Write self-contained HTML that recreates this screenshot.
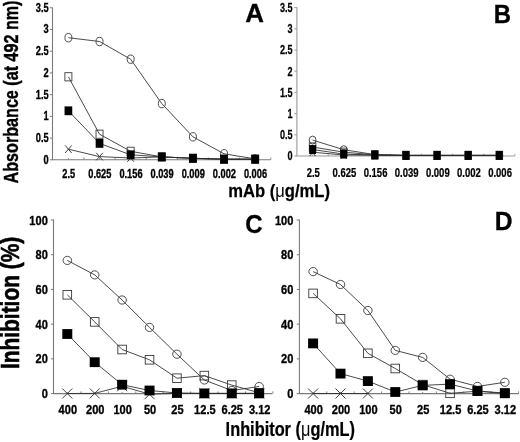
<!DOCTYPE html>
<html><head><meta charset="utf-8"><title>Figure</title>
<style>html,body{margin:0;padding:0;background:#fff;}svg{display:block;will-change:transform;}</style></head><body>
<svg width="520" height="442" viewBox="0 0 520 442">
<rect width="520" height="442" fill="#fff"/>
<path d="M52.50 7.60V159.80H270.50" fill="none" stroke="#7a7a7a" stroke-width="1.1"/>
<path d="M49.90 159.80H52.50" stroke="#7a7a7a" stroke-width="1"/>
<text transform="translate(48.60,163.81) scale(0.735,1)" font-family="Liberation Sans, sans-serif" font-weight="bold" font-size="12.6" text-anchor="end" fill="#000" stroke="#000" stroke-width="0.35">0</text>
<path d="M49.90 138.08H52.50" stroke="#7a7a7a" stroke-width="1"/>
<text transform="translate(48.60,142.09) scale(0.735,1)" font-family="Liberation Sans, sans-serif" font-weight="bold" font-size="12.6" text-anchor="end" fill="#000" stroke="#000" stroke-width="0.35">0.5</text>
<path d="M49.90 116.36H52.50" stroke="#7a7a7a" stroke-width="1"/>
<text transform="translate(48.60,120.37) scale(0.735,1)" font-family="Liberation Sans, sans-serif" font-weight="bold" font-size="12.6" text-anchor="end" fill="#000" stroke="#000" stroke-width="0.35">1</text>
<path d="M49.90 94.64H52.50" stroke="#7a7a7a" stroke-width="1"/>
<text transform="translate(48.60,98.65) scale(0.735,1)" font-family="Liberation Sans, sans-serif" font-weight="bold" font-size="12.6" text-anchor="end" fill="#000" stroke="#000" stroke-width="0.35">1.5</text>
<path d="M49.90 72.92H52.50" stroke="#7a7a7a" stroke-width="1"/>
<text transform="translate(48.60,76.93) scale(0.735,1)" font-family="Liberation Sans, sans-serif" font-weight="bold" font-size="12.6" text-anchor="end" fill="#000" stroke="#000" stroke-width="0.35">2</text>
<path d="M49.90 51.20H52.50" stroke="#7a7a7a" stroke-width="1"/>
<text transform="translate(48.60,55.21) scale(0.735,1)" font-family="Liberation Sans, sans-serif" font-weight="bold" font-size="12.6" text-anchor="end" fill="#000" stroke="#000" stroke-width="0.35">2.5</text>
<path d="M49.90 29.48H52.50" stroke="#7a7a7a" stroke-width="1"/>
<text transform="translate(48.60,33.49) scale(0.735,1)" font-family="Liberation Sans, sans-serif" font-weight="bold" font-size="12.6" text-anchor="end" fill="#000" stroke="#000" stroke-width="0.35">3</text>
<path d="M49.90 7.76H52.50" stroke="#7a7a7a" stroke-width="1"/>
<text transform="translate(48.60,11.77) scale(0.735,1)" font-family="Liberation Sans, sans-serif" font-weight="bold" font-size="12.6" text-anchor="end" fill="#000" stroke="#000" stroke-width="0.35">3.5</text>
<path d="M68.40 159.80v-1.6M83.97 159.80v-2.2M99.53 159.80v-1.6M115.09 159.80v-2.2M130.66 159.80v-1.6M146.22 159.80v-2.2M161.79 159.80v-1.6M177.36 159.80v-2.2M192.92 159.80v-1.6M208.49 159.80v-2.2M224.05 159.80v-1.6M239.62 159.80v-2.2M255.18 159.80v-1.6M270.75 159.80v-2.2" stroke="#7a7a7a" stroke-width="0.9" fill="none"/>
<text transform="translate(68.70,178.00) scale(0.735,1)" font-family="Liberation Sans, sans-serif" font-weight="bold" font-size="12.6" text-anchor="middle" fill="#000" stroke="#000" stroke-width="0.35">2.5</text>
<text transform="translate(99.83,178.00) scale(0.735,1)" font-family="Liberation Sans, sans-serif" font-weight="bold" font-size="12.6" text-anchor="middle" fill="#000" stroke="#000" stroke-width="0.35">0.625</text>
<text transform="translate(130.96,178.00) scale(0.735,1)" font-family="Liberation Sans, sans-serif" font-weight="bold" font-size="12.6" text-anchor="middle" fill="#000" stroke="#000" stroke-width="0.35">0.156</text>
<text transform="translate(162.09,178.00) scale(0.735,1)" font-family="Liberation Sans, sans-serif" font-weight="bold" font-size="12.6" text-anchor="middle" fill="#000" stroke="#000" stroke-width="0.35">0.039</text>
<text transform="translate(193.22,178.00) scale(0.735,1)" font-family="Liberation Sans, sans-serif" font-weight="bold" font-size="12.6" text-anchor="middle" fill="#000" stroke="#000" stroke-width="0.35">0.009</text>
<text transform="translate(224.35,178.00) scale(0.735,1)" font-family="Liberation Sans, sans-serif" font-weight="bold" font-size="12.6" text-anchor="middle" fill="#000" stroke="#000" stroke-width="0.35">0.002</text>
<text transform="translate(255.48,178.00) scale(0.735,1)" font-family="Liberation Sans, sans-serif" font-weight="bold" font-size="12.6" text-anchor="middle" fill="#000" stroke="#000" stroke-width="0.35">0.006</text>
<polyline points="68.40,37.70 99.53,41.50 130.66,59.20 161.79,103.60 192.92,136.80 224.05,153.80 255.18,158.90" fill="none" stroke="#2a2a2a" stroke-width="0.85"/>
<polyline points="68.40,76.80 99.53,134.20 130.66,151.30 161.79,156.90 192.92,158.30 224.05,159.20 255.18,159.20" fill="none" stroke="#2a2a2a" stroke-width="0.85"/>
<polyline points="68.40,149.20 99.53,156.60 130.66,158.00 161.79,156.90 192.92,158.30 224.05,159.20 255.18,159.20" fill="none" stroke="#2a2a2a" stroke-width="0.85"/>
<polyline points="68.40,110.80 99.53,143.40 130.66,154.80 161.79,156.90 192.92,158.30 224.05,159.20 255.18,159.20" fill="none" stroke="#2a2a2a" stroke-width="0.85"/>
<ellipse cx="68.40" cy="37.70" rx="3.5" ry="4.2" fill="none" stroke="#3a3a3a" stroke-width="0.9"/>
<ellipse cx="99.53" cy="41.50" rx="3.5" ry="4.2" fill="none" stroke="#3a3a3a" stroke-width="0.9"/>
<ellipse cx="130.66" cy="59.20" rx="3.5" ry="4.2" fill="none" stroke="#3a3a3a" stroke-width="0.9"/>
<ellipse cx="161.79" cy="103.60" rx="3.5" ry="4.2" fill="none" stroke="#3a3a3a" stroke-width="0.9"/>
<ellipse cx="192.92" cy="136.80" rx="3.5" ry="4.2" fill="none" stroke="#3a3a3a" stroke-width="0.9"/>
<ellipse cx="224.05" cy="153.80" rx="3.5" ry="4.2" fill="none" stroke="#3a3a3a" stroke-width="0.9"/>
<ellipse cx="255.18" cy="158.90" rx="3.5" ry="4.2" fill="none" stroke="#3a3a3a" stroke-width="0.9"/>
<rect x="64.90" y="72.70" width="7.0" height="8.2" fill="none" stroke="#3a3a3a" stroke-width="0.9"/>
<rect x="96.03" y="130.10" width="7.0" height="8.2" fill="none" stroke="#3a3a3a" stroke-width="0.9"/>
<rect x="127.16" y="147.20" width="7.0" height="8.2" fill="none" stroke="#3a3a3a" stroke-width="0.9"/>
<rect x="158.29" y="152.80" width="7.0" height="8.2" fill="none" stroke="#3a3a3a" stroke-width="0.9"/>
<rect x="189.42" y="154.20" width="7.0" height="8.2" fill="none" stroke="#3a3a3a" stroke-width="0.9"/>
<rect x="220.55" y="155.10" width="7.0" height="8.2" fill="none" stroke="#3a3a3a" stroke-width="0.9"/>
<rect x="251.68" y="155.10" width="7.0" height="8.2" fill="none" stroke="#3a3a3a" stroke-width="0.9"/>
<path d="M65.10 145.40L71.70 153.00M65.10 153.00L71.70 145.40" stroke="#2a2a2a" stroke-width="0.9" fill="none"/>
<path d="M96.23 152.80L102.83 160.40M96.23 160.40L102.83 152.80" stroke="#2a2a2a" stroke-width="0.9" fill="none"/>
<path d="M127.36 154.20L133.96 161.80M127.36 161.80L133.96 154.20" stroke="#2a2a2a" stroke-width="0.9" fill="none"/>
<path d="M158.49 153.10L165.09 160.70M158.49 160.70L165.09 153.10" stroke="#2a2a2a" stroke-width="0.9" fill="none"/>
<path d="M189.62 154.50L196.22 162.10M189.62 162.10L196.22 154.50" stroke="#2a2a2a" stroke-width="0.9" fill="none"/>
<path d="M220.75 155.40L227.35 163.00M220.75 163.00L227.35 155.40" stroke="#2a2a2a" stroke-width="0.9" fill="none"/>
<path d="M251.88 155.40L258.48 163.00M251.88 163.00L258.48 155.40" stroke="#2a2a2a" stroke-width="0.9" fill="none"/>
<rect x="64.55" y="106.40" width="7.7" height="8.8" fill="#000"/>
<rect x="95.68" y="139.00" width="7.7" height="8.8" fill="#000"/>
<rect x="126.81" y="150.40" width="7.7" height="8.8" fill="#000"/>
<rect x="157.94" y="152.50" width="7.7" height="8.8" fill="#000"/>
<rect x="189.07" y="153.90" width="7.7" height="8.8" fill="#000"/>
<rect x="220.20" y="154.80" width="7.7" height="8.8" fill="#000"/>
<rect x="251.33" y="154.80" width="7.7" height="8.8" fill="#000"/>
<path d="M296.90 7.00V156.00H514.60" fill="none" stroke="#9a9a9a" stroke-width="1.1"/>
<path d="M294.30 156.00H296.90" stroke="#9a9a9a" stroke-width="1"/>
<text transform="translate(292.60,160.43) scale(0.69,1)" font-family="Liberation Sans, sans-serif" font-weight="bold" font-size="13.2" text-anchor="end" fill="#000" stroke="#000" stroke-width="0.25">0</text>
<path d="M294.30 134.80H296.90" stroke="#9a9a9a" stroke-width="1"/>
<text transform="translate(292.60,139.23) scale(0.69,1)" font-family="Liberation Sans, sans-serif" font-weight="bold" font-size="13.2" text-anchor="end" fill="#000" stroke="#000" stroke-width="0.25">0.5</text>
<path d="M294.30 113.60H296.90" stroke="#9a9a9a" stroke-width="1"/>
<text transform="translate(292.60,118.03) scale(0.69,1)" font-family="Liberation Sans, sans-serif" font-weight="bold" font-size="13.2" text-anchor="end" fill="#000" stroke="#000" stroke-width="0.25">1</text>
<path d="M294.30 92.40H296.90" stroke="#9a9a9a" stroke-width="1"/>
<text transform="translate(292.60,96.83) scale(0.69,1)" font-family="Liberation Sans, sans-serif" font-weight="bold" font-size="13.2" text-anchor="end" fill="#000" stroke="#000" stroke-width="0.25">1.5</text>
<path d="M294.30 71.20H296.90" stroke="#9a9a9a" stroke-width="1"/>
<text transform="translate(292.60,75.63) scale(0.69,1)" font-family="Liberation Sans, sans-serif" font-weight="bold" font-size="13.2" text-anchor="end" fill="#000" stroke="#000" stroke-width="0.25">2</text>
<path d="M294.30 50.00H296.90" stroke="#9a9a9a" stroke-width="1"/>
<text transform="translate(292.60,54.43) scale(0.69,1)" font-family="Liberation Sans, sans-serif" font-weight="bold" font-size="13.2" text-anchor="end" fill="#000" stroke="#000" stroke-width="0.25">2.5</text>
<path d="M294.30 28.80H296.90" stroke="#9a9a9a" stroke-width="1"/>
<text transform="translate(292.60,33.23) scale(0.69,1)" font-family="Liberation Sans, sans-serif" font-weight="bold" font-size="13.2" text-anchor="end" fill="#000" stroke="#000" stroke-width="0.25">3</text>
<path d="M294.30 7.60H296.90" stroke="#9a9a9a" stroke-width="1"/>
<text transform="translate(292.60,12.03) scale(0.69,1)" font-family="Liberation Sans, sans-serif" font-weight="bold" font-size="13.2" text-anchor="end" fill="#000" stroke="#000" stroke-width="0.25">3.5</text>
<path d="M312.60 156.00v-1.6M328.16 156.00v-2.2M343.72 156.00v-1.6M359.28 156.00v-2.2M374.84 156.00v-1.6M390.40 156.00v-2.2M405.96 156.00v-1.6M421.52 156.00v-2.2M437.08 156.00v-1.6M452.64 156.00v-2.2M468.20 156.00v-1.6M483.76 156.00v-2.2M499.32 156.00v-1.6M514.88 156.00v-2.2" stroke="#9a9a9a" stroke-width="0.9" fill="none"/>
<text transform="translate(313.30,176.60) scale(0.7,1)" font-family="Liberation Sans, sans-serif" font-weight="bold" font-size="13.6" text-anchor="middle" fill="#000" stroke="#000" stroke-width="0.25">2.5</text>
<text transform="translate(344.42,176.60) scale(0.7,1)" font-family="Liberation Sans, sans-serif" font-weight="bold" font-size="13.6" text-anchor="middle" fill="#000" stroke="#000" stroke-width="0.25">0.625</text>
<text transform="translate(375.54,176.60) scale(0.7,1)" font-family="Liberation Sans, sans-serif" font-weight="bold" font-size="13.6" text-anchor="middle" fill="#000" stroke="#000" stroke-width="0.25">0.156</text>
<text transform="translate(406.66,176.60) scale(0.7,1)" font-family="Liberation Sans, sans-serif" font-weight="bold" font-size="13.6" text-anchor="middle" fill="#000" stroke="#000" stroke-width="0.25">0.039</text>
<text transform="translate(437.78,176.60) scale(0.7,1)" font-family="Liberation Sans, sans-serif" font-weight="bold" font-size="13.6" text-anchor="middle" fill="#000" stroke="#000" stroke-width="0.25">0.009</text>
<text transform="translate(468.90,176.60) scale(0.7,1)" font-family="Liberation Sans, sans-serif" font-weight="bold" font-size="13.6" text-anchor="middle" fill="#000" stroke="#000" stroke-width="0.25">0.002</text>
<text transform="translate(500.02,176.60) scale(0.7,1)" font-family="Liberation Sans, sans-serif" font-weight="bold" font-size="13.6" text-anchor="middle" fill="#000" stroke="#000" stroke-width="0.25">0.006</text>
<polyline points="312.60,140.10 343.72,149.70 374.84,154.60 405.96,155.40 437.08,155.40 468.20,155.40 499.32,155.40" fill="none" stroke="#2a2a2a" stroke-width="0.85"/>
<polyline points="312.60,147.00 343.72,152.20 374.84,154.80 405.96,155.40 437.08,155.40 468.20,155.40 499.32,155.40" fill="none" stroke="#2a2a2a" stroke-width="0.85"/>
<polyline points="312.60,152.20 343.72,155.00 374.84,155.20 405.96,155.40 437.08,155.40 468.20,155.40 499.32,155.40" fill="none" stroke="#2a2a2a" stroke-width="0.85"/>
<polyline points="312.60,149.50 343.72,154.10 374.84,155.00 405.96,155.40 437.08,155.40 468.20,155.40 499.32,155.40" fill="none" stroke="#2a2a2a" stroke-width="0.85"/>
<ellipse cx="312.60" cy="140.10" rx="3.4" ry="4.0" fill="none" stroke="#3a3a3a" stroke-width="0.9"/>
<ellipse cx="343.72" cy="149.70" rx="3.4" ry="4.0" fill="none" stroke="#3a3a3a" stroke-width="0.9"/>
<ellipse cx="374.84" cy="154.60" rx="3.4" ry="4.0" fill="none" stroke="#3a3a3a" stroke-width="0.9"/>
<ellipse cx="405.96" cy="155.40" rx="3.4" ry="4.0" fill="none" stroke="#3a3a3a" stroke-width="0.9"/>
<ellipse cx="437.08" cy="155.40" rx="3.4" ry="4.0" fill="none" stroke="#3a3a3a" stroke-width="0.9"/>
<ellipse cx="468.20" cy="155.40" rx="3.4" ry="4.0" fill="none" stroke="#3a3a3a" stroke-width="0.9"/>
<ellipse cx="499.32" cy="155.40" rx="3.4" ry="4.0" fill="none" stroke="#3a3a3a" stroke-width="0.9"/>
<rect x="309.30" y="142.90" width="6.6" height="8.2" fill="none" stroke="#3a3a3a" stroke-width="0.9"/>
<rect x="340.42" y="148.10" width="6.6" height="8.2" fill="none" stroke="#3a3a3a" stroke-width="0.9"/>
<rect x="371.54" y="150.70" width="6.6" height="8.2" fill="none" stroke="#3a3a3a" stroke-width="0.9"/>
<rect x="402.66" y="151.30" width="6.6" height="8.2" fill="none" stroke="#3a3a3a" stroke-width="0.9"/>
<rect x="433.78" y="151.30" width="6.6" height="8.2" fill="none" stroke="#3a3a3a" stroke-width="0.9"/>
<rect x="464.90" y="151.30" width="6.6" height="8.2" fill="none" stroke="#3a3a3a" stroke-width="0.9"/>
<rect x="496.02" y="151.30" width="6.6" height="8.2" fill="none" stroke="#3a3a3a" stroke-width="0.9"/>
<path d="M309.80 148.40L315.40 156.00M309.80 156.00L315.40 148.40" stroke="#2a2a2a" stroke-width="0.9" fill="none"/>
<path d="M340.92 151.20L346.52 158.80M340.92 158.80L346.52 151.20" stroke="#2a2a2a" stroke-width="0.9" fill="none"/>
<path d="M372.04 151.40L377.64 159.00M372.04 159.00L377.64 151.40" stroke="#2a2a2a" stroke-width="0.9" fill="none"/>
<path d="M403.16 151.60L408.76 159.20M403.16 159.20L408.76 151.60" stroke="#2a2a2a" stroke-width="0.9" fill="none"/>
<path d="M434.28 151.60L439.88 159.20M434.28 159.20L439.88 151.60" stroke="#2a2a2a" stroke-width="0.9" fill="none"/>
<path d="M465.40 151.60L471.00 159.20M465.40 159.20L471.00 151.60" stroke="#2a2a2a" stroke-width="0.9" fill="none"/>
<path d="M496.52 151.60L502.12 159.20M496.52 159.20L502.12 151.60" stroke="#2a2a2a" stroke-width="0.9" fill="none"/>
<rect x="309.15" y="145.05" width="6.9" height="8.9" fill="#000"/>
<rect x="340.27" y="149.65" width="6.9" height="8.9" fill="#000"/>
<rect x="371.39" y="150.55" width="6.9" height="8.9" fill="#000"/>
<rect x="402.51" y="150.95" width="6.9" height="8.9" fill="#000"/>
<rect x="433.63" y="150.95" width="6.9" height="8.9" fill="#000"/>
<rect x="464.75" y="150.95" width="6.9" height="8.9" fill="#000"/>
<rect x="495.87" y="150.95" width="6.9" height="8.9" fill="#000"/>
<path d="M53.50 219.60V393.60H272.40" fill="none" stroke="#7a7a7a" stroke-width="1.1"/>
<path d="M50.90 393.60H53.50" stroke="#7a7a7a" stroke-width="1"/>
<text transform="translate(47.80,398.13) scale(0.82,1)" font-family="Liberation Sans, sans-serif" font-weight="bold" font-size="13.5" text-anchor="end" fill="#000" stroke="#000" stroke-width="0.35">0</text>
<path d="M50.90 358.88H53.50" stroke="#7a7a7a" stroke-width="1"/>
<text transform="translate(47.80,363.41) scale(0.82,1)" font-family="Liberation Sans, sans-serif" font-weight="bold" font-size="13.5" text-anchor="end" fill="#000" stroke="#000" stroke-width="0.35">20</text>
<path d="M50.90 324.16H53.50" stroke="#7a7a7a" stroke-width="1"/>
<text transform="translate(47.80,328.69) scale(0.82,1)" font-family="Liberation Sans, sans-serif" font-weight="bold" font-size="13.5" text-anchor="end" fill="#000" stroke="#000" stroke-width="0.35">40</text>
<path d="M50.90 289.44H53.50" stroke="#7a7a7a" stroke-width="1"/>
<text transform="translate(47.80,293.97) scale(0.82,1)" font-family="Liberation Sans, sans-serif" font-weight="bold" font-size="13.5" text-anchor="end" fill="#000" stroke="#000" stroke-width="0.35">60</text>
<path d="M50.90 254.72H53.50" stroke="#7a7a7a" stroke-width="1"/>
<text transform="translate(47.80,259.25) scale(0.82,1)" font-family="Liberation Sans, sans-serif" font-weight="bold" font-size="13.5" text-anchor="end" fill="#000" stroke="#000" stroke-width="0.35">80</text>
<path d="M50.90 220.00H53.50" stroke="#7a7a7a" stroke-width="1"/>
<text transform="translate(47.80,224.53) scale(0.82,1)" font-family="Liberation Sans, sans-serif" font-weight="bold" font-size="13.5" text-anchor="end" fill="#000" stroke="#000" stroke-width="0.35">100</text>
<path d="M67.30 393.60v-1.6M81.00 393.60v-2.2M94.71 393.60v-1.6M108.41 393.60v-2.2M122.12 393.60v-1.6M135.82 393.60v-2.2M149.53 393.60v-1.6M163.24 393.60v-2.2M176.94 393.60v-1.6M190.64 393.60v-2.2M204.35 393.60v-1.6M218.06 393.60v-2.2M231.76 393.60v-1.6M245.46 393.60v-2.2M259.17 393.60v-1.6M272.88 393.60v-2.2" stroke="#7a7a7a" stroke-width="0.9" fill="none"/>
<text transform="translate(67.80,413.70) scale(0.82,1)" font-family="Liberation Sans, sans-serif" font-weight="bold" font-size="13.5" text-anchor="middle" fill="#000" stroke="#000" stroke-width="0.35">400</text>
<text transform="translate(95.21,413.70) scale(0.82,1)" font-family="Liberation Sans, sans-serif" font-weight="bold" font-size="13.5" text-anchor="middle" fill="#000" stroke="#000" stroke-width="0.35">200</text>
<text transform="translate(122.62,413.70) scale(0.82,1)" font-family="Liberation Sans, sans-serif" font-weight="bold" font-size="13.5" text-anchor="middle" fill="#000" stroke="#000" stroke-width="0.35">100</text>
<text transform="translate(150.03,413.70) scale(0.82,1)" font-family="Liberation Sans, sans-serif" font-weight="bold" font-size="13.5" text-anchor="middle" fill="#000" stroke="#000" stroke-width="0.35">50</text>
<text transform="translate(177.44,413.70) scale(0.82,1)" font-family="Liberation Sans, sans-serif" font-weight="bold" font-size="13.5" text-anchor="middle" fill="#000" stroke="#000" stroke-width="0.35">25</text>
<text transform="translate(204.85,413.70) scale(0.82,1)" font-family="Liberation Sans, sans-serif" font-weight="bold" font-size="13.5" text-anchor="middle" fill="#000" stroke="#000" stroke-width="0.35">12.5</text>
<text transform="translate(232.26,413.70) scale(0.82,1)" font-family="Liberation Sans, sans-serif" font-weight="bold" font-size="13.5" text-anchor="middle" fill="#000" stroke="#000" stroke-width="0.35">6.25</text>
<text transform="translate(259.67,413.70) scale(0.82,1)" font-family="Liberation Sans, sans-serif" font-weight="bold" font-size="13.5" text-anchor="middle" fill="#000" stroke="#000" stroke-width="0.35">3.12</text>
<polyline points="67.30,260.40 94.71,274.90 122.12,300.00 149.53,327.40 176.94,354.20 204.35,380.00 231.76,390.50 259.17,386.50" fill="none" stroke="#2a2a2a" stroke-width="0.85"/>
<polyline points="67.30,294.80 94.71,321.90 122.12,349.50 149.53,359.80 176.94,378.20 204.35,375.60 231.76,385.10 259.17,392.80" fill="none" stroke="#2a2a2a" stroke-width="0.85"/>
<polyline points="67.30,393.50 94.71,393.40 122.12,386.20 149.53,394.20 176.94,393.40 204.35,393.40 231.76,393.40 259.17,393.40" fill="none" stroke="#2a2a2a" stroke-width="0.85"/>
<polyline points="67.30,334.00 94.71,362.20 122.12,384.70 149.53,390.50 176.94,393.00 204.35,393.40 231.76,393.40 259.17,393.40" fill="none" stroke="#2a2a2a" stroke-width="0.85"/>
<ellipse cx="67.30" cy="260.40" rx="4.25" ry="4.1" fill="none" stroke="#3a3a3a" stroke-width="0.9"/>
<ellipse cx="94.71" cy="274.90" rx="4.25" ry="4.1" fill="none" stroke="#3a3a3a" stroke-width="0.9"/>
<ellipse cx="122.12" cy="300.00" rx="4.25" ry="4.1" fill="none" stroke="#3a3a3a" stroke-width="0.9"/>
<ellipse cx="149.53" cy="327.40" rx="4.25" ry="4.1" fill="none" stroke="#3a3a3a" stroke-width="0.9"/>
<ellipse cx="176.94" cy="354.20" rx="4.25" ry="4.1" fill="none" stroke="#3a3a3a" stroke-width="0.9"/>
<ellipse cx="204.35" cy="380.00" rx="4.25" ry="4.1" fill="none" stroke="#3a3a3a" stroke-width="0.9"/>
<ellipse cx="231.76" cy="390.50" rx="4.25" ry="4.1" fill="none" stroke="#3a3a3a" stroke-width="0.9"/>
<ellipse cx="259.17" cy="386.50" rx="4.25" ry="4.1" fill="none" stroke="#3a3a3a" stroke-width="0.9"/>
<rect x="63.00" y="290.50" width="8.6" height="8.6" fill="none" stroke="#3a3a3a" stroke-width="0.9"/>
<rect x="90.41" y="317.60" width="8.6" height="8.6" fill="none" stroke="#3a3a3a" stroke-width="0.9"/>
<rect x="117.82" y="345.20" width="8.6" height="8.6" fill="none" stroke="#3a3a3a" stroke-width="0.9"/>
<rect x="145.23" y="355.50" width="8.6" height="8.6" fill="none" stroke="#3a3a3a" stroke-width="0.9"/>
<rect x="172.64" y="373.90" width="8.6" height="8.6" fill="none" stroke="#3a3a3a" stroke-width="0.9"/>
<rect x="200.05" y="371.30" width="8.6" height="8.6" fill="none" stroke="#3a3a3a" stroke-width="0.9"/>
<rect x="227.46" y="380.80" width="8.6" height="8.6" fill="none" stroke="#3a3a3a" stroke-width="0.9"/>
<rect x="254.87" y="388.50" width="8.6" height="8.6" fill="none" stroke="#3a3a3a" stroke-width="0.9"/>
<path d="M62.30 388.50L72.30 398.50M62.30 398.50L72.30 388.50" stroke="#2a2a2a" stroke-width="0.9" fill="none"/>
<path d="M89.71 388.40L99.71 398.40M89.71 398.40L99.71 388.40" stroke="#2a2a2a" stroke-width="0.9" fill="none"/>
<path d="M117.12 381.20L127.12 391.20M117.12 391.20L127.12 381.20" stroke="#2a2a2a" stroke-width="0.9" fill="none"/>
<path d="M144.53 389.20L154.53 399.20M144.53 399.20L154.53 389.20" stroke="#2a2a2a" stroke-width="0.9" fill="none"/>
<path d="M171.94 388.40L181.94 398.40M171.94 398.40L181.94 388.40" stroke="#2a2a2a" stroke-width="0.9" fill="none"/>
<path d="M199.35 388.40L209.35 398.40M199.35 398.40L209.35 388.40" stroke="#2a2a2a" stroke-width="0.9" fill="none"/>
<path d="M226.76 388.40L236.76 398.40M226.76 398.40L236.76 388.40" stroke="#2a2a2a" stroke-width="0.9" fill="none"/>
<path d="M254.17 388.40L264.17 398.40M254.17 398.40L264.17 388.40" stroke="#2a2a2a" stroke-width="0.9" fill="none"/>
<rect x="62.30" y="329.10" width="10.0" height="9.8" fill="#000"/>
<rect x="89.71" y="357.30" width="10.0" height="9.8" fill="#000"/>
<rect x="117.12" y="379.80" width="10.0" height="9.8" fill="#000"/>
<rect x="144.53" y="385.60" width="10.0" height="9.8" fill="#000"/>
<rect x="171.94" y="388.10" width="10.0" height="9.8" fill="#000"/>
<rect x="199.35" y="388.50" width="10.0" height="9.8" fill="#000"/>
<rect x="226.76" y="388.50" width="10.0" height="9.8" fill="#000"/>
<rect x="254.17" y="388.50" width="10.0" height="9.8" fill="#000"/>
<path d="M299.40 219.60V393.60H518.60" fill="none" stroke="#7a7a7a" stroke-width="1.1"/>
<path d="M296.80 393.60H299.40" stroke="#7a7a7a" stroke-width="1"/>
<text transform="translate(293.40,398.13) scale(0.82,1)" font-family="Liberation Sans, sans-serif" font-weight="bold" font-size="13.5" text-anchor="end" fill="#000" stroke="#000" stroke-width="0.35">0</text>
<path d="M296.80 358.88H299.40" stroke="#7a7a7a" stroke-width="1"/>
<text transform="translate(293.40,363.41) scale(0.82,1)" font-family="Liberation Sans, sans-serif" font-weight="bold" font-size="13.5" text-anchor="end" fill="#000" stroke="#000" stroke-width="0.35">20</text>
<path d="M296.80 324.16H299.40" stroke="#7a7a7a" stroke-width="1"/>
<text transform="translate(293.40,328.69) scale(0.82,1)" font-family="Liberation Sans, sans-serif" font-weight="bold" font-size="13.5" text-anchor="end" fill="#000" stroke="#000" stroke-width="0.35">40</text>
<path d="M296.80 289.44H299.40" stroke="#7a7a7a" stroke-width="1"/>
<text transform="translate(293.40,293.97) scale(0.82,1)" font-family="Liberation Sans, sans-serif" font-weight="bold" font-size="13.5" text-anchor="end" fill="#000" stroke="#000" stroke-width="0.35">60</text>
<path d="M296.80 254.72H299.40" stroke="#7a7a7a" stroke-width="1"/>
<text transform="translate(293.40,259.25) scale(0.82,1)" font-family="Liberation Sans, sans-serif" font-weight="bold" font-size="13.5" text-anchor="end" fill="#000" stroke="#000" stroke-width="0.35">80</text>
<path d="M296.80 220.00H299.40" stroke="#7a7a7a" stroke-width="1"/>
<text transform="translate(293.40,224.53) scale(0.82,1)" font-family="Liberation Sans, sans-serif" font-weight="bold" font-size="13.5" text-anchor="end" fill="#000" stroke="#000" stroke-width="0.35">100</text>
<path d="M313.10 393.60v-1.6M326.80 393.60v-2.2M340.49 393.60v-1.6M354.19 393.60v-2.2M367.88 393.60v-1.6M381.57 393.60v-2.2M395.27 393.60v-1.6M408.97 393.60v-2.2M422.66 393.60v-1.6M436.36 393.60v-2.2M450.05 393.60v-1.6M463.75 393.60v-2.2M477.44 393.60v-1.6M491.14 393.60v-2.2M504.83 393.60v-1.6M518.53 393.60v-2.2" stroke="#7a7a7a" stroke-width="0.9" fill="none"/>
<text transform="translate(313.60,413.70) scale(0.82,1)" font-family="Liberation Sans, sans-serif" font-weight="bold" font-size="13.5" text-anchor="middle" fill="#000" stroke="#000" stroke-width="0.35">400</text>
<text transform="translate(340.99,413.70) scale(0.82,1)" font-family="Liberation Sans, sans-serif" font-weight="bold" font-size="13.5" text-anchor="middle" fill="#000" stroke="#000" stroke-width="0.35">200</text>
<text transform="translate(368.38,413.70) scale(0.82,1)" font-family="Liberation Sans, sans-serif" font-weight="bold" font-size="13.5" text-anchor="middle" fill="#000" stroke="#000" stroke-width="0.35">100</text>
<text transform="translate(395.77,413.70) scale(0.82,1)" font-family="Liberation Sans, sans-serif" font-weight="bold" font-size="13.5" text-anchor="middle" fill="#000" stroke="#000" stroke-width="0.35">50</text>
<text transform="translate(423.16,413.70) scale(0.82,1)" font-family="Liberation Sans, sans-serif" font-weight="bold" font-size="13.5" text-anchor="middle" fill="#000" stroke="#000" stroke-width="0.35">25</text>
<text transform="translate(450.55,413.70) scale(0.82,1)" font-family="Liberation Sans, sans-serif" font-weight="bold" font-size="13.5" text-anchor="middle" fill="#000" stroke="#000" stroke-width="0.35">12.5</text>
<text transform="translate(477.94,413.70) scale(0.82,1)" font-family="Liberation Sans, sans-serif" font-weight="bold" font-size="13.5" text-anchor="middle" fill="#000" stroke="#000" stroke-width="0.35">6.25</text>
<text transform="translate(505.33,413.70) scale(0.82,1)" font-family="Liberation Sans, sans-serif" font-weight="bold" font-size="13.5" text-anchor="middle" fill="#000" stroke="#000" stroke-width="0.35">3.12</text>
<polyline points="313.10,271.60 340.49,284.50 367.88,310.50 395.27,350.40 422.66,357.40 450.05,379.20 477.44,386.40 504.83,382.30" fill="none" stroke="#2a2a2a" stroke-width="0.85"/>
<polyline points="313.10,293.40 340.49,318.80 367.88,353.30 395.27,368.50 422.66,384.60 450.05,393.30 477.44,391.20 504.83,393.50" fill="none" stroke="#2a2a2a" stroke-width="0.85"/>
<polyline points="313.10,393.50 340.49,393.50 367.88,393.50" fill="none" stroke="#2a2a2a" stroke-width="0.85"/>
<polyline points="313.10,343.40 340.49,373.60 367.88,381.10 395.27,392.00 422.66,385.40 450.05,384.10 477.44,391.00 504.83,393.10" fill="none" stroke="#2a2a2a" stroke-width="0.85"/>
<ellipse cx="313.10" cy="271.60" rx="4.25" ry="4.1" fill="none" stroke="#3a3a3a" stroke-width="0.9"/>
<ellipse cx="340.49" cy="284.50" rx="4.25" ry="4.1" fill="none" stroke="#3a3a3a" stroke-width="0.9"/>
<ellipse cx="367.88" cy="310.50" rx="4.25" ry="4.1" fill="none" stroke="#3a3a3a" stroke-width="0.9"/>
<ellipse cx="395.27" cy="350.40" rx="4.25" ry="4.1" fill="none" stroke="#3a3a3a" stroke-width="0.9"/>
<ellipse cx="422.66" cy="357.40" rx="4.25" ry="4.1" fill="none" stroke="#3a3a3a" stroke-width="0.9"/>
<ellipse cx="450.05" cy="379.20" rx="4.25" ry="4.1" fill="none" stroke="#3a3a3a" stroke-width="0.9"/>
<ellipse cx="477.44" cy="386.40" rx="4.25" ry="4.1" fill="none" stroke="#3a3a3a" stroke-width="0.9"/>
<ellipse cx="504.83" cy="382.30" rx="4.25" ry="4.1" fill="none" stroke="#3a3a3a" stroke-width="0.9"/>
<rect x="308.80" y="289.10" width="8.6" height="8.6" fill="none" stroke="#3a3a3a" stroke-width="0.9"/>
<rect x="336.19" y="314.50" width="8.6" height="8.6" fill="none" stroke="#3a3a3a" stroke-width="0.9"/>
<rect x="363.58" y="349.00" width="8.6" height="8.6" fill="none" stroke="#3a3a3a" stroke-width="0.9"/>
<rect x="390.97" y="364.20" width="8.6" height="8.6" fill="none" stroke="#3a3a3a" stroke-width="0.9"/>
<rect x="418.36" y="380.30" width="8.6" height="8.6" fill="none" stroke="#3a3a3a" stroke-width="0.9"/>
<rect x="445.75" y="389.00" width="8.6" height="8.6" fill="none" stroke="#3a3a3a" stroke-width="0.9"/>
<rect x="473.14" y="386.90" width="8.6" height="8.6" fill="none" stroke="#3a3a3a" stroke-width="0.9"/>
<rect x="500.53" y="389.20" width="8.6" height="8.6" fill="none" stroke="#3a3a3a" stroke-width="0.9"/>
<path d="M308.10 388.50L318.10 398.50M308.10 398.50L318.10 388.50" stroke="#2a2a2a" stroke-width="0.9" fill="none"/>
<path d="M335.49 388.50L345.49 398.50M335.49 398.50L345.49 388.50" stroke="#2a2a2a" stroke-width="0.9" fill="none"/>
<path d="M362.88 388.50L372.88 398.50M362.88 398.50L372.88 388.50" stroke="#2a2a2a" stroke-width="0.9" fill="none"/>
<rect x="308.10" y="338.50" width="10.0" height="9.8" fill="#000"/>
<rect x="335.49" y="368.70" width="10.0" height="9.8" fill="#000"/>
<rect x="362.88" y="376.20" width="10.0" height="9.8" fill="#000"/>
<rect x="390.27" y="387.10" width="10.0" height="9.8" fill="#000"/>
<rect x="417.66" y="380.50" width="10.0" height="9.8" fill="#000"/>
<rect x="445.05" y="379.20" width="10.0" height="9.8" fill="#000"/>
<rect x="472.44" y="386.10" width="10.0" height="9.8" fill="#000"/>
<rect x="499.83" y="388.20" width="10.0" height="9.8" fill="#000"/>
<text transform="translate(254.6,21.5) scale(0.99,1)" font-family="Liberation Sans, sans-serif" font-weight="bold" font-size="26.2" text-anchor="middle" fill="#000" stroke="#000" stroke-width="0.3">A</text>
<text transform="translate(502.4,22.7) scale(0.96,1)" font-family="Liberation Sans, sans-serif" font-weight="bold" font-size="24.9" text-anchor="middle" fill="#000" stroke="#000" stroke-width="0.3">B</text>
<text transform="translate(254.0,232.5) scale(0.91,1)" font-family="Liberation Sans, sans-serif" font-weight="bold" font-size="26.4" text-anchor="middle" fill="#000" stroke="#000" stroke-width="0.3">C</text>
<text transform="translate(503.6,230.2) scale(0.935,1)" font-family="Liberation Sans, sans-serif" font-weight="bold" font-size="26.4" text-anchor="middle" fill="#000" stroke="#000" stroke-width="0.3">D</text>
<text transform="translate(18.20,183.40) rotate(-90) scale(0.819,1)" font-family="Liberation Sans, sans-serif" font-weight="bold" font-size="19.7" text-anchor="start" fill="#000" stroke="#000" stroke-width="0.45">Absorbance (at 492 nm)</text>
<text transform="translate(19.00,369.00) rotate(-90) scale(0.829,1)" font-family="Liberation Sans, sans-serif" font-weight="bold" font-size="25.2" text-anchor="start" fill="#000" stroke="#000" stroke-width="0.6">Inhibition (%)</text>
<text transform="translate(228.3,196.65) scale(0.912,1)" font-family="Liberation Sans, sans-serif" font-weight="bold" font-size="18.2" fill="#000" stroke="#000" stroke-width="0.25">mAb (<tspan font-weight="normal" stroke="none">&#956;</tspan>g/mL)</text>
<text transform="translate(225.6,436.1) scale(0.843,1)" font-family="Liberation Sans, sans-serif" font-weight="bold" font-size="19.4" fill="#000" stroke="#000" stroke-width="0.25">Inhibitor (<tspan font-weight="normal" stroke="none">&#956;</tspan>g/mL)</text>
</svg></body></html>
